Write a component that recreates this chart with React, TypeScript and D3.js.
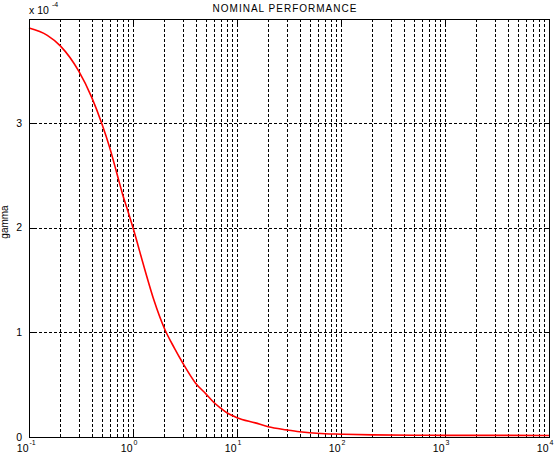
import React, { useMemo } from 'react';
import { scaleLog, scaleLinear, line, curveMonotoneX } from 'd3';

const WIDTH = 560;
const HEIGHT = 457;
const MARGINS = { top: 19, right: 11, bottom: 20, left: 29 };

// frequency (rad/s) and gamma in units of 1e-4
const FREQ = [0.1, 0.15, 0.2, 0.3, 0.4, 0.5, 0.6, 0.7, 0.8, 0.9, 1, 1.3, 1.6, 2, 2.5, 3, 4, 5, 6, 7, 8, 9, 10, 15, 20, 30, 40, 50, 70, 100, 200, 500, 1000, 10000];
const GAMMA = [3.91, 3.84, 3.74, 3.5, 3.25, 3.0, 2.76, 2.52, 2.31, 2.15, 2.0, 1.6, 1.3, 1.04, 0.85, 0.71, 0.515, 0.415, 0.33, 0.275, 0.232, 0.205, 0.185, 0.135, 0.098, 0.068, 0.05, 0.04, 0.031, 0.027, 0.02, 0.017, 0.016, 0.015];
const Y_TICKS = [0, 1, 2, 3];
const X_DECADES = [-1, 0, 1, 2, 3, 4];
const Y_SCALE_EXP = -4;

const TITLE = 'NOMINAL PERFORMANCE';
const Y_LABEL = 'gamma';

const FONT = '"Liberation Sans", Arial, sans-serif';

export default function App() {
  const innerLeft = MARGINS.left;
  const innerRight = WIDTH - MARGINS.right;
  const innerTop = MARGINS.top;
  const innerBottom = HEIGHT - MARGINS.bottom;

  const { xScale, yScale } = useMemo(() => ({
    xScale: scaleLog().domain([0.1, 1e4]).range([innerLeft, innerRight]),
    yScale: scaleLinear().domain([0, 3.997]).range([innerBottom, innerTop]),
  }), []);

  const xTicks = xScale.ticks();
  const isDecade = (v: number) => Math.abs(Math.log10(v) - Math.round(Math.log10(v))) < 1e-9;

  const path = line<number>()
    .x((_, i) => xScale(FREQ[i]))
    .y((d) => yScale(d))
    .curve(curveMonotoneX)(GAMMA);

  return (
    <svg width={WIDTH} height={HEIGHT} style={{ position: 'absolute', left: 0, top: 0, display: 'block', background: '#fff' }} fontFamily={FONT}>
      <rect x={0} y={0} width={WIDTH} height={HEIGHT} fill="#fff" />

      {/* grid */}
      <g stroke="#000" strokeWidth={1} strokeDasharray="3,2" shapeRendering="crispEdges">
        {xTicks.filter((t) => t > 0.1 && t < 1e4).map((t) => (
          <line key={`gx${t}`} x1={Math.round(xScale(t)) + 0.5} x2={Math.round(xScale(t)) + 0.5} y1={innerTop} y2={innerBottom} />
        ))}
        {Y_TICKS.filter((t) => t > 0).map((t) => (
          <line key={`gy${t}`} x1={innerLeft} x2={innerRight} y1={Math.round(yScale(t)) + 0.5} y2={Math.round(yScale(t)) + 0.5} />
        ))}
      </g>

      {/* ticks */}
      <g stroke="#000" strokeWidth={1} shapeRendering="crispEdges">
        {xTicks.map((t) => {
          const x = Math.round(xScale(t)) + 0.5;
          const len = isDecade(t) ? 5 : 3;
          return (
            <g key={`tx${t}`}>
              <line x1={x} x2={x} y1={innerBottom} y2={innerBottom - len} />
              <line x1={x} x2={x} y1={innerTop} y2={innerTop + len} />
            </g>
          );
        })}
        {Y_TICKS.map((t) => {
          const y = Math.round(yScale(t)) + 0.5;
          return (
            <g key={`ty${t}`}>
              <line x1={innerLeft} x2={innerLeft + 5} y1={y} y2={y} />
              <line x1={innerRight} x2={innerRight - 5} y1={y} y2={y} />
            </g>
          );
        })}
      </g>

      {/* data */}
      <path d={path || ''} fill="none" stroke="#ff0000" strokeWidth={1.6} strokeLinejoin="round" />

      {/* box */}
      <rect x={innerLeft + 0.5} y={innerTop + 0.5} width={innerRight - innerLeft} height={innerBottom - innerTop} fill="none" stroke="#000" strokeWidth={1} shapeRendering="crispEdges" />

      {/* y tick labels */}
      <g fontSize={10.5} fill="#000">
        {Y_TICKS.map((t) => (
          <text key={`ly${t}`} x={innerLeft - 7} y={yScale(t) + 3.6} textAnchor="end">{t}</text>
        ))}
      </g>

      {/* x tick labels */}
      <g fill="#000">
        {X_DECADES.map((e) => {
          const x = xScale(Math.pow(10, e));
          return (
            <g key={`lx${e}`}>
              <text x={x - 0.5} y={452} fontSize={10.5} textAnchor="end">10</text>
              <text x={x + 0.5} y={445} fontSize={7}>{e}</text>
            </g>
          );
        })}
      </g>

      {/* exponent */}
      <text x={innerLeft} y={14} fontSize={10.5} fill="#000">x 10</text>
      <text x={52} y={7} fontSize={7} fill="#000">{Y_SCALE_EXP}</text>

      {/* title & label */}
      <text x={(innerLeft + innerRight) / 2 - 4} y={12} fontSize={10} letterSpacing={1} textAnchor="middle" fill="#000">{TITLE}</text>
      <text transform={`translate(7.5, 222) rotate(-90)`} fontSize={10} textAnchor="middle" fill="#000">{Y_LABEL}</text>
    </svg>
  );
}
